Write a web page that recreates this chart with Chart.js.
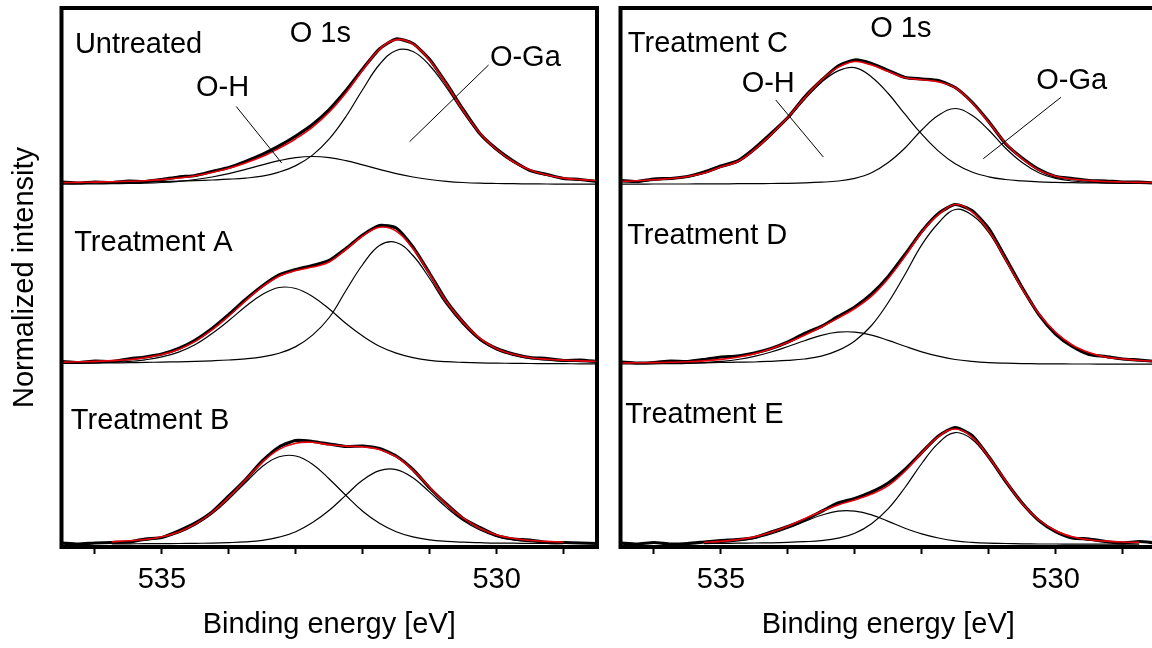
<!DOCTYPE html>
<html>
<head>
<meta charset="utf-8">
<script src="https://cdn.jsdelivr.net/npm/chart.js@4/dist/chart.umd.min.js"></script>
<style>
  html, body { margin: 0; padding: 0; background: #fff; overflow: hidden; width: 1152px; height: 648px; }
  #left { position: absolute; left: 0; top: 0; }
  #right { position: absolute; left: 608px; top: 0; }
</style>
</head>
<body>
<canvas id="left" width="608" height="648"></canvas>
<canvas id="right" width="560" height="648"></canvas>
<script>
// binding energy grid (eV), shared by every spectrum
const energy = [536.5,536.25,536,535.75,535.5,535.25,535,534.75,534.5,534.25,534,533.75,533.5,533.25,533,532.75,532.5,532.25,532,531.75,531.5,531.25,531,530.75,530.5,530.25,530,529.75,529.5,529.25,529,528.75,528.5];
const minorTicks = [536, 534, 533, 532, 531, 529];
const majorTicks = [535, 530];
const offsets = [360, 180, 0]; // vertical stacking of the three spectra per panel

// Untreated
const untreatedData = [2.5,1.5,2.5,2,3.5,3,5,7.5,9,13,17,23,30,38.5,48.5,60,75,94,115.5,135.5,145.5,141,125,101,75,51,35.5,23.5,14,10,6,5,3];
const untreatedFit = [1.9,2.1,2.4,2.8,3.2,3.8,4.9,6.5,8.8,12,16.2,21.5,27.9,36.2,45.8,57.4,72.5,91.8,114.6,135.1,144.9,140.5,124,100.2,74,51.3,35,22.8,14.6,9.5,6.4,4.9,3.8];
const untreatedOH = [0.4,0.5,0.6,0.8,1,1.3,2,3.2,5,7.5,10.9,15.1,19.6,23.8,26.9,28,26.9,23.8,19.6,15.1,10.9,7.5,5,3.2,2,1.3,1,0.8,0.6,0.5,0.4,0.35,0.3];
const untreatedOGa = [1.5,1.6,1.8,2,2.2,2.5,2.9,3.3,3.8,4.5,5.3,6.4,8.3,12.4,18.9,29.4,45.6,68,95,120,134,133,119,97,72,50,34,22,14,9,6,4.5,3.5];

// Treatment A
const aData = [3,2,3.5,3,5.5,7.5,10.5,16,24.5,36,50,65,78.5,89.5,95,99,104,116,129.5,139,136.5,117.5,91,63.5,42.5,25.5,16,10.5,7,6,4,4.5,3];
const aFit = [2.4,2.7,3.1,3.9,4.8,6.8,10,15.1,23.1,34.7,48.5,63.7,77.7,88.2,93.9,97.4,102.5,115,128.5,137.3,133.4,115.9,90.2,62.8,42.1,26.1,15.8,10.2,6.8,5.3,4.3,3.6,3.1];
const aOH = [1.2,1.4,1.7,2.3,3,4.7,7.6,12.4,20,31,44,58,70,77,76,68,55.5,41,28.5,18.3,11.4,6.9,4.2,2.8,2.1,1.6,1.3,1.2,1,0.9,0.8,0.7,0.6];
const aOGa = [1.2,1.3,1.4,1.6,1.8,2.1,2.4,2.7,3.1,3.7,4.5,5.7,7.7,11.2,17.9,29.4,47,74,100,119,122,109,86,60,40,24.5,14.5,9,5.8,4.4,3.5,2.9,2.5];

// Treatment B
const bData = [1.5,0.5,1.5,2,2.5,5.5,7,13.5,21.5,32.5,48.5,65,83.5,97.5,104,103,100.5,98,98.5,96,88.5,75,56.5,40.5,26,17,9,5.5,4.5,2,2,1.5,1];
const bFit = [null,null,null,2.8,3.7,5,7.7,12.5,20.6,32,47.4,64.7,82.2,95.1,101.3,102.2,99.7,98.4,97.7,95.1,87.7,74.3,57,40.2,26.3,16.3,9.5,6,4,3.1,2.4,null,null];
const bOH = [null,null,null,2.2,3,4.2,6.8,11.5,19.4,30.6,45.5,62,78,87.7,88.5,80.3,65.5,49,33.3,21.2,12.8,7.6,4.6,3.1,2.3,1.8,1.4,1.3,1.1,1,0.9,null,null];
const bOGa = [null,null,null,0.6,0.7,0.8,0.9,1,1.2,1.4,1.9,2.7,4.2,7.4,12.8,21.9,34.2,49.4,64.4,73.9,74.9,66.7,52.4,37.1,24,14.5,8.1,4.7,2.9,2.1,1.5,null,null];

// Treatment C
const cData = [4,3,5.5,6,8,12.5,18.5,23.5,36,51,67,87.5,104,118.5,124.5,121,114,107,105.5,104,97,82.5,63,41,26.5,15,8,6,4,3.5,2.5,2.5,1.5];
const cFit = [3.1,3.7,4.7,6,8,11.6,17.6,23,34.9,50,67.2,86.6,104.3,117.1,123,119.4,113,106.8,104.8,102.6,96.7,81.7,62.2,41.5,25.6,14.4,8.3,5.3,3.9,3,2.5,2.1,1.9];
const cOH = [2.7,3.3,4.2,5.5,7.5,11,17,22.2,34,49,66,85,102,113.6,116.8,107.6,91,70.3,50.3,33.4,20.7,12.5,7.7,5,3.6,2.6,2.1,1.8,1.6,1.4,1.3,1.1,1];
const cOGa = [0.4,0.4,0.5,0.5,0.5,0.6,0.6,0.8,0.9,1,1.2,1.6,2.3,3.5,6.2,11.8,22,36.5,54.5,69.2,76,69.2,54.5,36.5,22,11.8,6.2,3.5,2.3,1.6,1.2,1,0.9];

// Treatment D
const dData = [2.5,1.5,2,3.5,3,5,7.5,8.5,11.5,16,22.5,31,38,48,57.5,70.5,88,110,133,151,160,154,136,107,77,50,30.5,18,10,8,5.5,4.5,3];
const dFit = [1.5,1.7,1.9,2.2,2.7,3.6,5.1,7.3,10.6,15.7,22.1,29.3,37.5,46.4,56,68.4,86.1,108.2,132.3,149.8,160,152.6,133.9,105.3,75.9,50.7,32.1,19.5,11.9,7.4,5.5,4,3.2];
const dOH = [0.5,0.6,0.7,0.9,1.2,1.9,3.1,5,8.1,12.5,18,23.8,29.2,32.3,32.4,29.4,24.1,18.2,12.7,8.3,5,3.1,1.9,1.3,0.9,0.7,0.6,0.5,0.5,0.4,0.4,0.35,0.3];
const dOGa = [1,1.1,1.2,1.3,1.5,1.7,2,2.3,2.5,3.2,4.1,5.5,8.3,14.1,23.6,39,62,90,119.6,141.5,155,149.5,132,104,75,50,31.5,19,11.4,7,5.1,3.6,2.9];

// Treatment E
const eData = [1.5,0.5,2,0.5,1,2.5,4,5,7,12.5,18,24.5,33,41.5,46,52.5,61.5,75,92,108.5,117,109,88,63.5,41.5,24,13,6.5,5.5,3,1.5,3,1.5];
const eFit = [null,null,null,null,null,2.2,3.1,4.9,7.6,12.2,18.3,25.8,33.1,39.6,44.5,50.4,58.9,73.3,91.6,107.9,115.5,107.4,87.5,64,41,24.5,13.7,7.7,4.8,3.35,2.5,2.1,null];
const eOH = [null,null,null,null,null,1.3,2,3.6,6.1,10.5,16.2,23,29.2,33.3,33.3,29.6,23.1,16.3,10.6,6.5,3.6,2.1,1.3,1,0.7,0.5,0.5,0.4,0.4,0.35,0.3,0.3,null];
const eOGa = [null,null,null,null,null,0.9,1.1,1.3,1.5,1.7,2.1,2.8,3.9,6.3,11.2,20.8,35.8,57,81,101.4,111.9,105.3,86.2,63,40.3,24,13.2,7.3,4.4,3,2.2,1.8,null];

const FONT = "'Liberation Sans', Arial, sans-serif";
Chart.defaults.font.family = FONT;
Chart.defaults.color = '#000';

// text annotations, in data units (energy, stacked intensity)
const leftNotes = [
  { text: 'Untreated', x: 536.3, y: 491.5 },
  { text: 'O 1s', x: 533.09, y: 502.5 },
  { text: 'O-H', x: 534.49, y: 448.5 },
  { text: 'O-Ga', x: 530.1, y: 478.5 },
  { text: 'Treatment A', x: 536.31, y: 293.5 },
  { text: 'Treatment B', x: 536.36, y: 115.5 }
];
const leftLeaders = [[533.89, 438, 533.21, 381.5], [530.12, 479.5, 531.3, 402.8]];
const rightNotes = [
  { text: 'Treatment C', x: 536.39, y: 492.5 },
  { text: 'O 1s', x: 532.77, y: 507.5 },
  { text: 'O-H', x: 534.69, y: 452.5 },
  { text: 'O-Ga', x: 530.29, y: 456 },
  { text: 'Treatment D', x: 536.4, y: 300.5 },
  { text: 'Treatment E', x: 536.43, y: 121.5 }
];
const rightLeaders = [[534.18, 444.5, 533.47, 387.5], [529.92, 447.2, 531.08, 385.8]];

const pts = (arr, off) => energy.map((e, i) => ({ x: e, y: arr[i] === null ? null : arr[i] + off }));

function spectrum(off, data, fit, oh, oga) {
  return [
    { data: pts(fit, off), borderColor: '#e8000b', borderWidth: 1.6, tension: 0.4, order: 0 },
    { data: pts(oh, off), borderColor: '#000', borderWidth: 1.2, tension: 0.4, order: 1 },
    { data: pts(oga, off), borderColor: '#000', borderWidth: 1.2, tension: 0.4, order: 1 },
    { data: pts(data, off), borderColor: '#000', borderWidth: 3.2, tension: 0.2, order: 2 }
  ];
}

// frame (open on the right for the cut-off right panel), leader lines and labels
const framePlugin = {
  id: 'frameNotes',
  afterDraw(chart, args, opts) {
    const { ctx, chartArea: a, scales: { x, y } } = chart;
    ctx.save();
    ctx.strokeStyle = '#000';
    ctx.lineWidth = 1;
    opts.leaders.forEach(l => {
      ctx.beginPath();
      ctx.moveTo(x.getPixelForValue(l[0]), y.getPixelForValue(l[1]));
      ctx.lineTo(x.getPixelForValue(l[2]), y.getPixelForValue(l[3]));
      ctx.stroke();
    });
    ctx.fillStyle = '#000';
    ctx.font = '29px ' + FONT;
    ctx.textAlign = 'left';
    ctx.textBaseline = 'alphabetic';
    opts.notes.forEach(n => ctx.fillText(n.text, x.getPixelForValue(n.x), y.getPixelForValue(n.y)));
    ctx.lineWidth = 4;
    ctx.beginPath();
    if (opts.openRight) {
      ctx.moveTo(a.right + 2, a.top);
      ctx.lineTo(a.left, a.top);
      ctx.lineTo(a.left, a.bottom);
      ctx.lineTo(a.right + 2, a.bottom);
    } else {
      ctx.rect(a.left, a.top, a.right - a.left, a.bottom - a.top);
    }
    ctx.stroke();
    ctx.restore();
  }
};

function makeChart(id, datasets, notes, leaders, pad, yTitle, openRight) {
  return new Chart(document.getElementById(id), {
    type: 'line',
    data: { datasets },
    plugins: [framePlugin],
    options: {
      responsive: false,
      animation: false,
      layout: { padding: pad },
      elements: { point: { radius: 0 } },
      plugins: {
        legend: { display: false },
        tooltip: { enabled: false },
        frameNotes: { notes, leaders, openRight }
      },
      scales: {
        x: {
          type: 'linear', min: 528.5, max: 536.5, reverse: true,
          border: { display: false },
          grid: { drawOnChartArea: false, tickLength: 7, tickWidth: 2, tickColor: '#000' },
          afterBuildTicks: s => { s.ticks = minorTicks.concat(majorTicks).sort((p, q) => q - p).map(v => ({ value: v })); },
          ticks: {
            autoSkip: false, maxRotation: 0, padding: 9, color: '#000', font: { size: 29 },
            callback: v => (majorTicks.includes(v) ? String(v) : '')
          },
          title: { display: true, text: 'Binding energy [eV]', color: '#000', font: { size: 29 }, padding: { top: 0, bottom: 6 } },
          afterFit: s => { s.height = 101; }
        },
        y: yTitle ? {
          min: -2.5, max: 536.5,
          ticks: { display: false }, grid: { display: false }, border: { display: false },
          title: { display: true, text: yTitle, color: '#000', font: { size: 29 }, padding: { top: 7.6, bottom: 0 } },
          afterFit: s => { s.width = 61.5; }
        } : { display: false, min: -2.5, max: 536.5 }
      }
    }
  });
}

makeChart('left', [
  ...spectrum(offsets[0], untreatedData, untreatedFit, untreatedOH, untreatedOGa),
  ...spectrum(offsets[1], aData, aFit, aOH, aOGa),
  ...spectrum(offsets[2], bData, bFit, bOH, bOGa)
], leftNotes, leftLeaders, { left: 0, right: 11, top: 8, bottom: 0 }, 'Normalized intensity', false);

makeChart('right', [
  ...spectrum(offsets[0], cData, cFit, cOH, cOGa),
  ...spectrum(offsets[1], dData, dFit, dOH, dOGa),
  ...spectrum(offsets[2], eData, eFit, eOH, eOGa)
], rightNotes, rightLeaders, { left: 12.5, right: 12, top: 8, bottom: 0 }, null, true);
</script>
</body>
</html>
